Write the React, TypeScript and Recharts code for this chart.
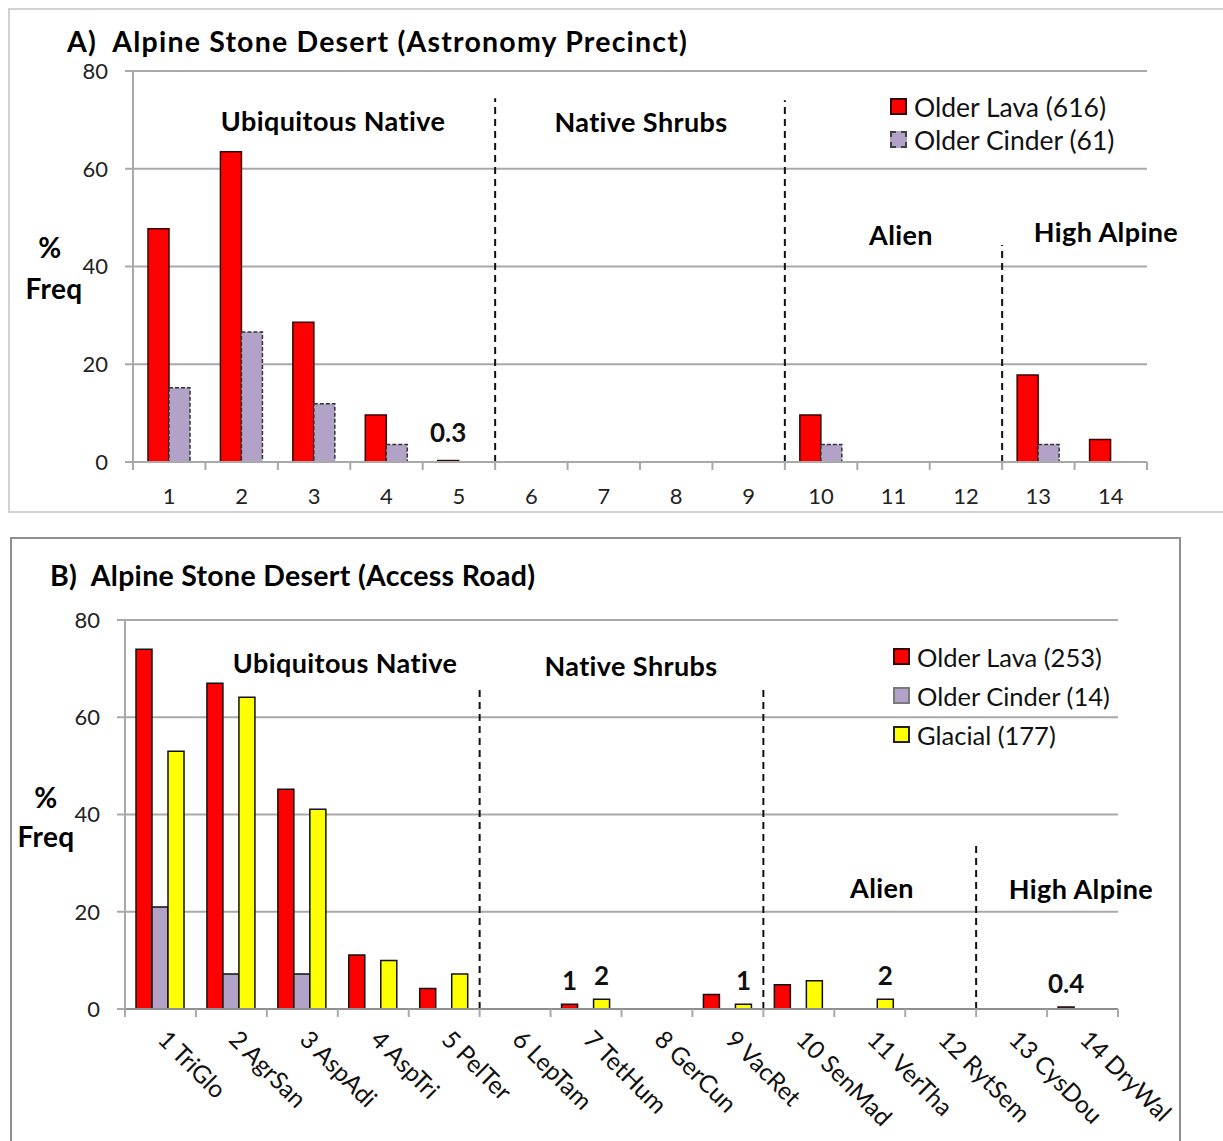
import React from "react";
import { Bar, BarChart, CartesianGrid, LabelList, Legend, ReferenceLine, XAxis, YAxis } from "recharts";

// ---- panel A: Astronomy Precinct ----
const categoriesA = ["1", "2", "3", "4", "5", "6", "7", "8", "9", "10", "11", "12", "13", "14"];
const lavaA = [47.7, 63.5, 28.6, 9.6, 0.3, 0, 0, 0, 0, 9.6, 0, 0, 17.8, 4.6];
const cinderA = [15.2, 26.6, 11.9, 3.6, 0, 0, 0, 0, 0, 3.6, 0, 0, 3.6, 0];
const lavaLabelsA = ["", "", "", "", "0.3", "", "", "", "", "", "", "", "", ""];

// ---- panel B: Access Road ----
const categoriesB = [
  "1 TriGlo", "2 AgrSan", "3 AspAdi", "4 AspTri", "5 PelTer", "6 LepTam", "7 TetHum",
  "8 GerCun", "9 VacRet", "10 SenMad", "11 VerTha", "12 RytSem", "13 CysDou", "14 DryWal"
];
const lavaB = [74, 67, 45.2, 11.1, 4.2, 0, 1, 0, 3, 5, 0, 0, 0, 0.4];
const cinderB = [21, 7.2, 7.2, 0, 0, 0, 0, 0, 0, 0, 0, 0, 0, 0];
const glacialB = [53, 64.1, 41.1, 10, 7.2, 0, 2, 0, 1, 5.8, 2, 0, 0, 0];
const lavaLabelsB = ["", "", "", "", "", "", "1", "", "", "", "", "", "", "0.4"];
const glacialLabelsB = ["", "", "", "", "", "", "2", "", "1", "", "2", "", "", ""];

const yTicks = [0, 20, 40, 60, 80];

// group dividers: position between categories, top value of the dashed line
const dividersA = [{ at: 5.5, top: 74.4 }, { at: 9.5, top: 74 }, { at: 12.5, top: 44.4 }];
const dividersB = [{ at: 5.5, top: 66.1 }, { at: 9.5, top: 66.1 }, { at: 12.5, top: 33.5 }];

const dataA = categoriesA.map((name, i) => ({
  idx: i + 1, name, lava: lavaA[i], cinder: cinderA[i], lavaLabel: lavaLabelsA[i]
}));
const dataB = categoriesB.map((name, i) => ({
  idx: i + 1, name, lava: lavaB[i], cinder: cinderB[i], glacial: glacialB[i],
  lavaLabel: lavaLabelsB[i], glacialLabel: glacialLabelsB[i]
}));

const FONT = "Lato, 'Open Sans', sans-serif";
const GRID = "#a9a9a9";

const legendStyle: Record<string, { fill: string; stroke: string; dashed?: boolean }> = {
  lavaA: { fill: "#ff0000", stroke: "#3b0000" },
  cinderA: { fill: "#b3a2c7", stroke: "#404040", dashed: true },
  lavaB: { fill: "#ff0000", stroke: "#3b0000" },
  cinderB: { fill: "#b3a2c7", stroke: "#7a7a7a" },
  glacialB: { fill: "#ffff00", stroke: "#222" }
};
const legendOrder = ["lava", "cinder", "glacial"];

function makeLegend(panel: string, rowH: number, size: number) {
  return (props: any) => {
    const items = [...(props.payload || [])].sort(
      (a: any, b: any) => legendOrder.indexOf(a.dataKey) - legendOrder.indexOf(b.dataKey)
    );
    return (
      <div style={{ fontFamily: FONT, fontSize: size, color: "#111" }}>
        {items.map((p: any) => {
          const s = legendStyle[p.dataKey + panel];
          return (
            <div key={p.dataKey} style={{ display: "flex", alignItems: "center", height: rowH }}>
              <span
                style={{
                  width: 17, height: 17, boxSizing: "border-box", background: s.fill,
                  border: `2px ${s.dashed ? "dashed" : "solid"} ${s.stroke}`, marginRight: 7
                }}
              />
              <span style={{ whiteSpace: "pre" }}>{p.value}</span>
            </div>
          );
        })}
      </div>
    );
  };
}

function makeTick(band: number, count: number, rotated: boolean) {
  return (props: any) => {
    const { x, y, payload, index } = props;
    const left = x - band / 2;
    const tx = x - 4;
    const ty = y + 24;
    return (
      <g>
        <line x1={left} x2={left} y1={y - 8} y2={y} stroke={GRID} strokeWidth={2} />
        {index === count - 1 && (
          <line x1={x + band / 2} x2={x + band / 2} y1={y - 8} y2={y} stroke={GRID} strokeWidth={2} />
        )}
        {rotated ? (
          <text
            x={tx}
            y={ty}
            transform={`rotate(45, ${tx}, ${ty})`}
            textAnchor="start"
            fontFamily={FONT}
            fontSize={24.5}
            fill="#111"
          >
            {payload.value}
          </text>
        ) : (
          <text x={x} y={y + 34} textAnchor="middle" fontFamily={FONT} fontSize={22} fill="#222">
            {payload.value}
          </text>
        )}
      </g>
    );
  };
}

function makeValueLabel(lift: number) {
  return (props: any) => {
    const { x, y, width, value } = props;
    if (!value) return null;
    return (
      <text x={x + width / 2} y={y - lift} textAnchor="middle" fontFamily={FONT} fontWeight="bold" fontSize={26} fill="#111">
        {value}
      </text>
    );
  };
}

const Txt = ({ x, y, children, size = 27, bold = true, center = true, spacing = 0.4 }: any) => (
  <div
    style={{
      position: "absolute", left: x, top: y, transform: center ? "translate(-50%, -50%)" : "translate(0, -50%)",
      fontFamily: FONT, fontSize: size, fontWeight: bold ? 700 : 400, whiteSpace: "pre", color: "#000",
      lineHeight: 1, letterSpacing: spacing
    }}
  >
    {children}
  </div>
);

export default function App() {
  // plot geometry (page pixels)
  const bandA = (1147 - 133) / 14;
  const bandB = (1118 - 125) / 14;

  return (
    <div style={{ position: "absolute", left: 0, top: 0, width: 1223, height: 1141, overflow: "hidden", background: "#fff" }}>
      {/* panel A */}
      <div style={{ position: "absolute", left: 8, top: 8, width: 1230, height: 505, border: "2px solid #d2d2d2", boxSizing: "border-box" }} />
      <div style={{ position: "absolute", left: 0, top: 0 }}>
        <BarChart width={1223} height={520} data={dataA} barGap={0} margin={{ top: 71, right: 76, bottom: 18, left: 73 }}>
          <CartesianGrid vertical={false} stroke={GRID} strokeWidth={2} />
          <XAxis
            dataKey="name"
            height={40}
            interval={0}
            tickSize={8}
            tickMargin={0}
            tickLine={false}
            axisLine={{ stroke: GRID, strokeWidth: 2 }}
            tick={makeTick(bandA, 14, false)}
          />
          <XAxis xAxisId="num" dataKey="idx" type="number" domain={[0.5, 14.5]} hide />
          <YAxis
            width={60}
            domain={[0, 80]}
            ticks={yTicks}
            tickSize={8}
            tickMargin={17}
            axisLine={{ stroke: GRID, strokeWidth: 2 }}
            tickLine={{ stroke: GRID, strokeWidth: 2 }}
            tick={{ fill: "#222", fontSize: 22, fontFamily: FONT }}
          />
          {dividersA.map((d) => (
            <ReferenceLine
              key={d.at}
              xAxisId="num"
              segment={[{ x: d.at, y: 0 }, { x: d.at, y: d.top }]}
              stroke="#111"
              strokeWidth={2}
              strokeDasharray="7 5"
            />
          ))}
          <Bar dataKey="lava" name="Older Lava (616)" fill="#ff0000" stroke="#3b0000" strokeWidth={1.5} barSize={21} isAnimationActive={false}>
            <LabelList dataKey="lavaLabel" content={makeValueLabel(19)} />
          </Bar>
          <Bar dataKey="cinder" name="Older Cinder (61)" fill="#b3a2c7" stroke="#333" strokeWidth={1.5} strokeDasharray="4 2" barSize={21} isAnimationActive={false} />
          <Legend
            layout="vertical"
            align="center"
            verticalAlign="middle"
            wrapperStyle={{ left: 890, top: 90, width: 300 }}
            content={makeLegend("A", 33, 26.5)}
          />
        </BarChart>
      </div>
      <Txt x={67} y={41} size={28.5} center={false} spacing={1.2}>{"A)  Alpine Stone Desert (Astronomy Precinct)"}</Txt>
      <Txt x={333} y={120}>Ubiquitous Native</Txt>
      <Txt x={641} y={121}>Native Shrubs</Txt>
      <Txt x={901} y={234}>Alien</Txt>
      <Txt x={1106} y={231}>High Alpine</Txt>
      <Txt x={50} y={247} size={28}>%</Txt>
      <Txt x={54} y={288} size={28}>Freq</Txt>

      {/* panel B */}
      <div style={{ position: "absolute", left: 10, top: 537, width: 1171, height: 620, border: "2px solid #8f8f8f", boxSizing: "border-box" }} />
      <div style={{ position: "absolute", left: 0, top: 530 }}>
        <BarChart width={1223} height={611} data={dataB} barGap={0} margin={{ top: 90, right: 105, bottom: 32, left: 65 }}>
          <CartesianGrid vertical={false} stroke={GRID} strokeWidth={2} />
          <XAxis
            dataKey="name"
            height={100}
            interval={0}
            tickSize={8}
            tickMargin={0}
            tickLine={false}
            axisLine={{ stroke: "#8f8f8f", strokeWidth: 2 }}
            tick={makeTick(bandB, 14, true)}
          />
          <XAxis xAxisId="num" dataKey="idx" type="number" domain={[0.5, 14.5]} hide />
          <YAxis
            width={60}
            domain={[0, 80]}
            ticks={yTicks}
            tickSize={8}
            tickMargin={17}
            axisLine={{ stroke: GRID, strokeWidth: 2 }}
            tickLine={{ stroke: GRID, strokeWidth: 2 }}
            tick={{ fill: "#222", fontSize: 22, fontFamily: FONT }}
          />
          {dividersB.map((d) => (
            <ReferenceLine
              key={d.at}
              xAxisId="num"
              segment={[{ x: d.at, y: 0 }, { x: d.at, y: d.top }]}
              stroke="#111"
              strokeWidth={2}
              strokeDasharray="7 5"
            />
          ))}
          <Bar dataKey="lava" name="Older Lava (253)" fill="#ff0000" stroke="#111" strokeWidth={1.5} barSize={16} isAnimationActive={false}>
            <LabelList dataKey="lavaLabel" content={makeValueLabel(14)} />
          </Bar>
          <Bar dataKey="cinder" name="Older Cinder (14)" fill="#b3a2c7" stroke="#111" strokeWidth={1.5} barSize={16} isAnimationActive={false} />
          <Bar dataKey="glacial" name="Glacial (177)" fill="#ffff00" stroke="#111" strokeWidth={1.5} barSize={16} isAnimationActive={false}>
            <LabelList dataKey="glacialLabel" content={makeValueLabel(14)} />
          </Bar>
          <Legend
            layout="vertical"
            align="center"
            verticalAlign="middle"
            wrapperStyle={{ left: 893, top: 107, width: 300 }}
            content={makeLegend("B", 39, 25.5)}
          />
        </BarChart>
      </div>
      <Txt x={50} y={575} size={28.5} center={false} spacing={0.3}>{"B)  Alpine Stone Desert (Access Road)"}</Txt>
      <Txt x={345} y={662}>Ubiquitous Native</Txt>
      <Txt x={631} y={665}>Native Shrubs</Txt>
      <Txt x={882} y={887}>Alien</Txt>
      <Txt x={1081} y={888}>High Alpine</Txt>
      <Txt x={46} y={797} size={28}>%</Txt>
      <Txt x={46} y={836} size={28}>Freq</Txt>
    </div>
  );
}
